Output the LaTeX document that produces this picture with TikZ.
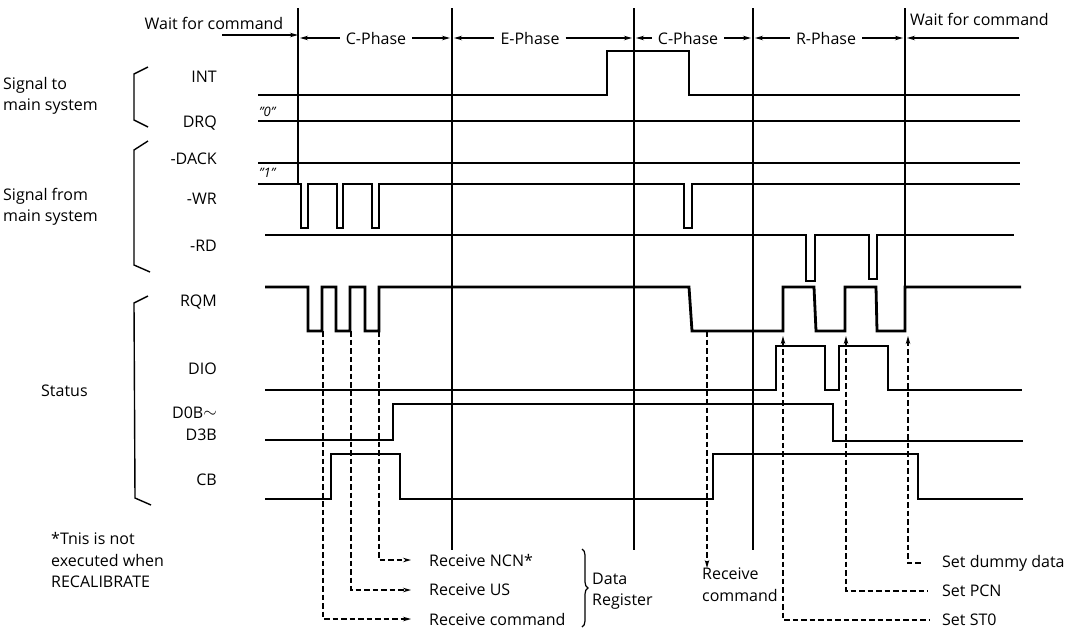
\documentclass[tikz,border=0pt]{standalone}
\usepackage{fontspec}
\setmainfont{Open Sans}
\usetikzlibrary{arrows.meta,decorations.pathreplacing}
\begin{document}
\begin{tikzpicture}[x=1pt,y=-1pt,
  sig/.style={line width=2.8pt, line join=miter},
  phl/.style={line width=1.3pt},
  brk/.style={line width=1.4pt},
  dsh/.style={line width=1.4pt, dash pattern=on 5.5pt off 3pt},
  txt/.style={font=\fontsize{16}{21.5}\selectfont, inner sep=0pt, align=left},
  arr/.style={line width=1.3pt, -{Stealth[length=8pt,width=4.5pt]}},
  darr/.style={dsh, -{Stealth[length=8pt,width=4.5pt]}},
  uarr/.style={dsh, {Stealth[length=8pt,width=4.5pt]}-},
]
\useasboundingbox (0,0) rectangle (1079,630);

% phase lines
\coordinate (L1) at (298,38);
\coordinate (L2) at (452,38);
\coordinate (L3) at (634,38);
\coordinate (L4) at (753,38);
\coordinate (L5) at (905,38);
\draw[phl] (298,8) -- (298,184);
\draw[phl] (452,8) -- (452,550);
\draw[phl] (634,8) -- (634,550);
\draw[phl] (753,8) -- (753,550);
\draw[phl] (905,8) -- (905,331);

% header
\node[txt] (w1) at (214,23) {Wait for command};
\coordinate (w1s) at (222,35);
\draw[arr] (w1s) -- (w1s -| L1);
\node[txt] (c1) at (376,38) {C-Phase};
\draw[arr] ([xshift=-6]c1.west) -- ([xshift=2]c1.west -| L1);
\draw[arr] ([xshift=6]c1.east) -- ([xshift=-2]c1.east -| L2);
\node[txt] (e1) at (530,38) {E-Phase};
\draw[arr] ([xshift=-6]e1.west) -- ([xshift=2]e1.west -| L2);
\draw[arr] ([xshift=6]e1.east) -- ([xshift=-2]e1.east -| L3);
\node[txt] (c2) at (688,38) {C-Phase};
\draw[arr] ([xshift=-6]c2.west) -- ([xshift=2]c2.west -| L3);
\draw[arr] ([xshift=6]c2.east) -- ([xshift=-2]c2.east -| L4);
\node[txt] (r1) at (826,38) {R-Phase};
\draw[arr] ([xshift=-6]r1.west) -- ([xshift=2]r1.west -| L4);
\draw[arr] ([xshift=6]r1.east) -- ([xshift=-2]r1.east -| L5);
\node[txt, anchor=west] (w2) at (910,19) {Wait for command};
\coordinate (w2e) at (1019,38);
\draw[arr] (w2e) -- ([xshift=2]w2e -| L5);

% group labels and brackets
\node[txt, anchor=west] (g1) at (3,96) {Signal to\\main system};
\node[txt, anchor=west] (g2) at (3,207) {Signal from\\main system};
\node[txt, anchor=west] (g3) at (41,391) {Status};
\draw[brk] (148,67) -- (134,74) -- (134,120) -- (148,127);
\draw[brk] (148,141) -- (134,150) -- (134,265) -- (150,272);
\draw[brk] (148,296) -- (134,303) -- (135,498) -- (151,505);

% signal names
\node[txt, anchor=east] (nint) at (217,77) {INT};
\node[txt, anchor=east] (ndrq) at (217,123) {DRQ};
\node[txt, anchor=east] (ndack) at (217,159) {-DACK};
\node[txt, anchor=east] (nwr) at (217,199) {-WR};
\node[txt, anchor=east] (nrd) at (217,246) {-RD};
\node[txt, anchor=east] (nrqm) at (217,302) {RQM};
\node[txt, anchor=east] (ndio) at (217,369) {DIO};
\node[txt, anchor=east] (nd0) at (217,413) {D0B\raisebox{1pt}{$\sim$}};
\node[txt, anchor=east] (nd3) at (217,435) {D3B};
\node[txt, anchor=east] (ncb) at (217,480) {CB};
\node[txt, anchor=west] (q0) at (259,112) {\fontsize{13}{13}\selectfont\itshape "0"};
\node[txt, anchor=west] (q1) at (259,173) {\fontsize{13}{13}\selectfont\itshape "1"};

% waveforms
\draw[sig] (258,95) -- (607,95) -- (607,51) -- (689,51) -- (689,95) -- (1020,95);
\draw[sig] (258,121) -- (1020,121);
\draw[sig] (258,163) -- (1020,163);
\draw[sig] (258,184) -- (301,184) -- (301,228) -- (308,228) -- (308,184) -- (337,184) -- (337,228) -- (343,228) -- (343,184) -- (372,184) -- (372,228) -- (379,228) -- (379,184) -- (684,184) -- (684,228) -- (692,228) -- (692,184) -- (1020,184);
\draw[sig] (265,235) -- (806,235) -- (806,281) -- (815,281) -- (815,235) -- (869,235) -- (869,279) -- (877,279) -- (877,235) -- (1014,235);
\draw[sig] (265,287) -- (308,287) -- (308,331) -- (322,331) -- (322,287) -- (336,287) -- (336,331) -- (350,331) -- (350,287) -- (365,287) -- (365,331) -- (379,331) -- (379,287) -- (689,287) -- (692,331) -- (783,331) -- (783,287) -- (814,287) -- (816,331) -- (845,331) -- (845,287) -- (876,287) -- (877,331) -- (905,331) -- (905,287) -- (1021,287);
\draw[sig] (265,390) -- (776,390) -- (776,346) -- (825,346) -- (825,390) -- (839,390) -- (839,346) -- (888,346) -- (888,390) -- (1022,390);
\draw[sig] (265,440) -- (393,440) -- (393,404) -- (833,404) -- (833,441) -- (1023,441);
\draw[sig] (265,499) -- (331,499) -- (331,454) -- (400,454) -- (400,499) -- (713,499) -- (713,454) -- (918,454) -- (918,499) -- (1023,499);

% bottom annotations
\node[txt, anchor=west] (note) at (51,560) {*Tnis is not\\executed when\\RECALIBRATE};
\node[txt, anchor=west] (rncn) at (429,560) {Receive NCN*};
\node[txt, anchor=west] (rus) at (429,590) {Receive US};
\node[txt, anchor=west] (rcmd) at (429,619) {Receive command};
\draw[darr] (379,331) |- ([xshift=-18]rncn.west);
\draw[darr] (351,331) |- ([xshift=-18]rus.west);
\draw[darr] (323,331) |- ([xshift=-18]rcmd.west);
\draw[decorate, decoration={brace, amplitude=6pt}, line width=1.2pt] (582,549) -- (582,627);
\node[txt, anchor=west] (dreg) at (592,591) {Data\\Register};
\node[txt, anchor=north west] (rcv2) at (702,568) {Receive\\command};
\coordinate (rtop) at (707,331);
\draw[darr] (rtop) -- (rtop |- rcv2.north);
\node[txt, anchor=west] (sdd) at (942,563) {Set dummy data};
\node[txt, anchor=west] (spcn) at (942,591) {Set PCN};
\node[txt, anchor=west] (sst) at (942,620) {Set ST0};
\draw[uarr] (908,336) |- ([xshift=-20]sdd.west);
\draw[uarr] (846,336) |- ([xshift=-14]spcn.west);
\draw[uarr] (783,336) |- ([xshift=-12]sst.west);
\end{tikzpicture}
\end{document}
